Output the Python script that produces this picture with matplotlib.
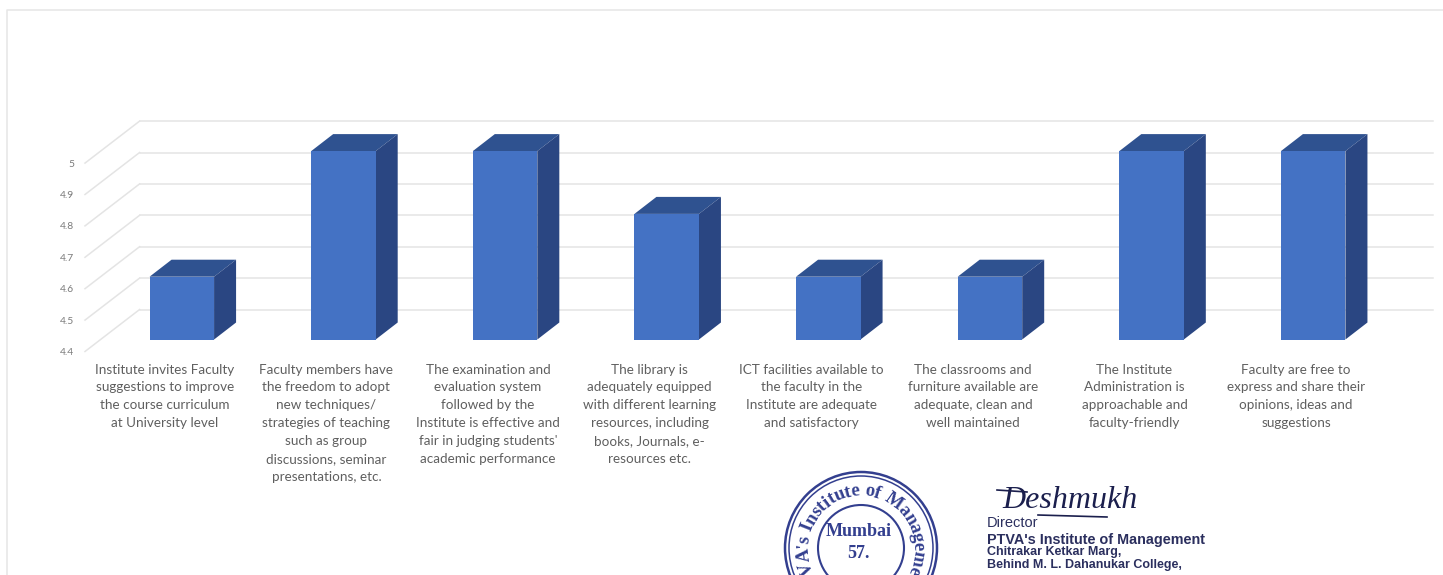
import numpy as np
import matplotlib
matplotlib.use("Agg")
import matplotlib.pyplot as plt
from matplotlib.patches import Polygon, Circle
from matplotlib.textpath import TextPath
from matplotlib.font_manager import FontProperties

categories = [
    "Institute invites Faculty\nsuggestions to improve\nthe course curriculum\nat University level",
    "Faculty members have\nthe freedom to adopt\nnew techniques/\nstrategies of teaching\nsuch as group\ndiscussions, seminar\npresentations, etc.",
    "The examination and\nevaluation system\nfollowed by the\nInstitute is effective and\nfair in judging students'\nacademic performance",
    "The library is\nadequately equipped\nwith different learning\nresources, including\nbooks, Journals, e-\nresources etc.",
    "ICT facilities available to\nthe faculty in the\nInstitute are adequate\nand satisfactory",
    "The classrooms and\nfurniture available are\nadequate, clean and\nwell maintained",
    "The Institute\nAdministration is\napproachable and\nfaculty-friendly",
    "Faculty are free to\nexpress and share their\nopinions, ideas and\nsuggestions",
]
values = [4.6, 5, 5, 4.8, 4.6, 4.6, 5, 5]
ticks = [4.4, 4.5, 4.6, 4.7, 4.8, 4.9, 5]
tick_labels = ["4.4", "4.5", "4.6", "4.7", "4.8", "4.9", "5"]

W, H = 1443, 575
FRONT, TOP, SIDE = "#4472C4", "#2F5290", "#2A4682"
GRID = "#E4E4E4"
TEXT = "#5F5F5F"
PX_X = 161.6        # pixels per category
PX_Y = 314.0        # pixels per 1.0 of value

fig = plt.figure(figsize=(W / 100, H / 100), dpi=100)
fig.patch.set_facecolor("white")

# main axes is the plane the bar fronts sit in, the rest is offset from it
ax = fig.add_axes([101 / W, 1 - 339.5 / H, 1293 / W, 188.4 / H])
ax.set_xlim(-0.5, 7.5)
ax.set_ylim(4.4, 5.0)
ax.axis("off")

wall_dx, wall_dy = 38.6 / PX_X, 30 / PX_Y
front_dx, front_dy = -16 / PX_X, -12 / PX_Y
bar_dx, bar_dy = 22 / PX_X, 17 / PX_Y
bar_w = 64.5 / PX_X

for t, lab in zip(ticks, tick_labels):
    ax.plot([-0.5 + wall_dx, 7.5 + wall_dx], [t + wall_dy, t + wall_dy],
            color=GRID, lw=1.1, clip_on=False, zorder=1)
    ax.plot([-0.5 + front_dx, -0.5 + wall_dx], [t + front_dy, t + wall_dy],
            color=GRID, lw=1.1, clip_on=False, zorder=1)
    ax.text(-0.5 + front_dx - 11 / PX_X, t + front_dy - 1 / PX_Y, lab, ha="right", va="center",
            fontsize=7.4, color="#7A7A7A", family="Lato", clip_on=False)

xs = np.arange(len(values))
ax.bar(xs, np.array(values) - 4.4, bar_w, bottom=4.4, color=FRONT, zorder=3, clip_on=False)
for x, v in zip(xs, values):
    l, r = x - bar_w / 2, x + bar_w / 2
    ax.add_patch(Polygon([(l, v), (r, v), (r + bar_dx, v + bar_dy), (l + bar_dx, v + bar_dy)],
                         closed=True, color=TOP, lw=0, zorder=2, clip_on=False))
    ax.add_patch(Polygon([(r, 4.4), (r, v), (r + bar_dx, v + bar_dy), (r + bar_dx, 4.4 + bar_dy)],
                         closed=True, color=SIDE, lw=0, zorder=2, clip_on=False))
    ax.text(x - 17 / PX_X, 4.4 - 24 / PX_Y, categories[x], ha="center", va="top",
            fontsize=9.7, color=TEXT, family="Lato", linespacing=1.59, clip_on=False)

# page overlay in pixel coordinates: frame, stamp and signature
pg = fig.add_axes([0, 0, 1, 1], zorder=5)
pg.set_xlim(0, W)
pg.set_ylim(H, 0)
pg.axis("off")
pg.patch.set_alpha(0)
pg.plot([7, 7, W], [H, 10, 10], color="#E6E6E6", lw=1.1)

STAMP = "#333F8F"
cx, cy = 861, 548
for rad, lw in [(76, 1.8), (72, 1.1), (43, 1.5)]:
    pg.add_patch(Circle((cx, cy), rad, fill=False, ec=STAMP, lw=lw))
pg.text(cx - 2, 531, "Mumbai", ha="center", va="center", fontsize=13, color=STAMP,
        family="Liberation Serif", weight="bold")
pg.text(cx - 3, 554, "57.", ha="center", va="center", fontsize=13, color=STAMP,
        family="Liberation Serif", weight="bold")

# ring text: each glyph gets an arc in proportion to its own width
stamp_text = "PTVA's Institute of Management"
ring_fs = 13.5
ring_r = 57
ring_fp = FontProperties(family="Liberation Serif", weight="bold")
widths = []
for ch in stamp_text:
    if ch == " ":
        widths.append(ring_fs * 0.3 * 100 / 72)
    else:
        bb = TextPath((0, 0), ch, size=ring_fs * 100 / 72, prop=ring_fp).get_extents()
        widths.append(bb.x1 + 0.6)
widths = np.array(widths)
arc = np.rad2deg(widths / ring_r)
centers = np.cumsum(arc) - arc / 2
centers = centers - centers[stamp_text.index("f")] + 17
for ch, a in zip(stamp_text, centers):
    rad = np.deg2rad(a)
    gy = cy - ring_r * np.cos(rad)
    if gy > 572:    # page is cut off here, same as the scan
        continue
    pg.text(cx + ring_r * np.sin(rad), gy, ch, rotation=-a,
            rotation_mode="anchor", ha="center", va="center", fontsize=ring_fs, color=STAMP,
            family="Liberation Serif", weight="bold", clip_on=True)

INK = "#2B2F5E"
pg.text(1002, 500, "Deshmukh", fontsize=23, style="italic", color="#1B1F4D",
        va="center", family="Liberation Serif")
pg.plot([1038, 1107], [515, 517], color="#1B1F4D", lw=1.2)
pg.plot([997, 1027], [490, 492], color="#1B1F4D", lw=1.2)
sig_lines = [("Director", 523, 10.5, "normal"),
             ("PTVA's Institute of Management", 540, 10.4, "bold"),
             ("Chitrakar Ketkar Marg,", 552, 9.0, "bold"),
             ("Behind M. L. Dahanukar College,", 565, 9.0, "bold")]
for line, y, fs, wt in sig_lines:
    pg.text(987, y, line, fontsize=fs, weight=wt, color=INK, va="center",
            family="Liberation Sans")

fig.savefig("out.png", dpi=100)
